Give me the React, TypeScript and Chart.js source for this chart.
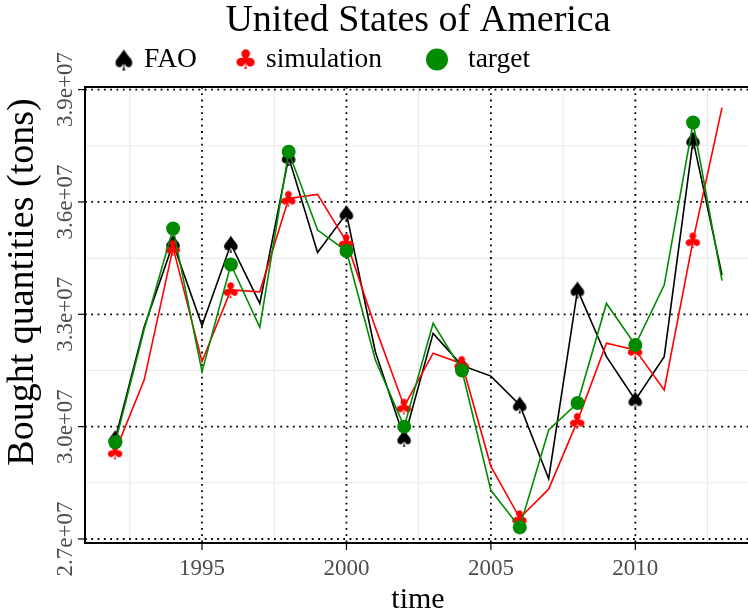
import React, { useEffect, useRef } from "react";
import { Chart, registerables } from "chart.js";

Chart.register(...registerables);

// ---- data ----
const years = [1992, 1993, 1994, 1995, 1996, 1997, 1998, 1999, 2000, 2001, 2002,
  2003, 2004, 2005, 2006, 2007, 2008, 2009, 2010, 2011, 2012, 2013];
const faoValues = [2.968e7, 3.267e7, 3.489e7, 3.27e7, 3.487e7, 3.329e7, 3.719e7, 3.465e7,
  3.569e7, 3.2e7, 2.969e7, 3.249e7, 3.163e7, 3.135e7, 3.058e7, 2.861e7, 3.365e7, 3.187e7,
  3.071e7, 3.187e7, 3.765e7, 3.405e7];
const simulationValues = [2.934e7, 3.125e7, 3.478e7, 3.174e7, 3.365e7, 3.36e7, 3.609e7, 3.62e7,
  3.494e7, 3.265e7, 3.054e7, 3.196e7, 3.168e7, 2.894e7, 2.756e7, 2.833e7, 3.016e7, 3.223e7,
  3.205e7, 3.098e7, 3.498e7, 3.852e7];
const targetValues = [2.958e7, 3.26e7, 3.529e7, 3.147e7, 3.433e7, 3.265e7, 3.734e7, 3.525e7,
  3.469e7, 3.178e7, 3.0e7, 3.276e7, 3.15e7, 2.83e7, 2.731e7, 2.991e7, 3.063e7, 3.329e7,
  3.218e7, 3.378e7, 3.812e7, 3.39e7];
const markerYears = [1992, 1994, 1996, 1998, 2000, 2002, 2004, 2006, 2008, 2010, 2012];
const seriesNames = ["FAO", "simulation", "target"];
const titleText = "United States of America";
const xTitle = "time";
const yTitle = "Bought quantities (tons)";
const yTickValues = [2.7e7, 3.0e7, 3.3e7, 3.6e7, 3.9e7];
const yTickLabels = ["2.7e+07", "3.0e+07", "3.3e+07", "3.6e+07", "3.9e+07"];
const yMinorValues = [2.85e7, 3.15e7, 3.45e7, 3.75e7];
const xTickValues = [1995, 2000, 2005, 2010];
const xTickLabels = ["1995", "2000", "2005", "2010"];
const xMinorValues = [1992.5, 1997.5, 2002.5, 2007.5, 2012.5];

const SERIF = '"Liberation Serif", serif';
const BLACK = "#000000";
const RED = "#ff0000";
const GREEN = "#008b00";

function makeGlyph(ch: string, color: string, h: number): HTMLCanvasElement {
  const probe = document.createElement("canvas").getContext("2d")!;
  probe.font = '100px "DejaVu Sans"';
  const m = probe.measureText(ch);
  const gh = m.actualBoundingBoxAscent + m.actualBoundingBoxDescent;
  const gw = m.actualBoundingBoxLeft + m.actualBoundingBoxRight;
  const s = h / gh;
  const c = document.createElement("canvas");
  c.width = Math.ceil(gw * s) + 2;
  c.height = Math.ceil(h) + 2;
  const ctx = c.getContext("2d")!;
  ctx.font = `${100 * s}px "DejaVu Sans"`;
  ctx.fillStyle = color;
  ctx.textAlign = "left";
  ctx.textBaseline = "alphabetic";
  ctx.fillText(ch, 1 + m.actualBoundingBoxLeft * s, 1 + m.actualBoundingBoxAscent * s);
  return c;
}

export default function App() {
  const ref = useRef<HTMLCanvasElement | null>(null);

  useEffect(() => {
    const canvas = ref.current!;
    const spade = makeGlyph("\u2660", BLACK, 17);
    const club = makeGlyph("\u2663", RED, 16);
    const spadeL = makeGlyph("\u2660", BLACK, 21);
    const clubL = makeGlyph("\u2663", RED, 20);

    const mk = (vals: number[]) => years.map((y, i) => ({ x: y, y: vals[i] }));
    const isMarker = (ctx: any) => {
      const raw = ctx.raw as any;
      return raw && markerYears.includes(raw.x);
    };

    const decor = {
      id: "decor",
      beforeDatasetsDraw(chart: any) {
        const { ctx, chartArea: a, scales } = chart;
        const xs = scales.x, ys = scales.y;
        ctx.save();
        ctx.strokeStyle = "#ebebeb";
        ctx.lineWidth = 1.1;
        ctx.setLineDash([]);
        for (const v of yMinorValues) {
          const p = ys.getPixelForValue(v);
          ctx.beginPath(); ctx.moveTo(a.left, p); ctx.lineTo(a.right, p); ctx.stroke();
        }
        for (const v of xMinorValues) {
          const p = xs.getPixelForValue(v);
          ctx.beginPath(); ctx.moveTo(p, a.top); ctx.lineTo(p, a.bottom); ctx.stroke();
        }
        ctx.strokeStyle = "#000000";
        ctx.lineWidth = 1.8;
        ctx.setLineDash([1.8, 4.5]);
        for (const v of yTickValues) {
          const p = ys.getPixelForValue(v);
          ctx.beginPath(); ctx.moveTo(a.left, p); ctx.lineTo(a.right, p); ctx.stroke();
        }
        for (const v of xTickValues) {
          const p = xs.getPixelForValue(v);
          ctx.beginPath(); ctx.moveTo(p, a.top); ctx.lineTo(p, a.bottom); ctx.stroke();
        }
        ctx.restore();
      },
      afterDraw(chart: any) {
        const { ctx, chartArea: a, scales } = chart;
        const xs = scales.x, ys = scales.y;
        ctx.save();
        // panel border
        ctx.setLineDash([]);
        ctx.strokeStyle = "#000000";
        ctx.lineWidth = 2;
        ctx.strokeRect(a.left, a.top, a.right - a.left + 6, a.bottom - a.top);
        // ticks
        ctx.lineWidth = 1.2;
        for (const v of yTickValues) {
          const p = ys.getPixelForValue(v);
          ctx.beginPath(); ctx.moveTo(a.left - 7, p); ctx.lineTo(a.left, p); ctx.stroke();
        }
        for (const v of xTickValues) {
          const p = xs.getPixelForValue(v);
          ctx.beginPath(); ctx.moveTo(p, a.bottom); ctx.lineTo(p, a.bottom + 7); ctx.stroke();
        }
        // tick labels
        ctx.fillStyle = "#4d4d4d";
        ctx.font = `23px ${SERIF}`;
        ctx.textAlign = "center";
        ctx.textBaseline = "alphabetic";
        xTickValues.forEach((v, i) => {
          ctx.fillText(xTickLabels[i], xs.getPixelForValue(v), a.bottom + 32);
        });
        yTickValues.forEach((v, i) => {
          ctx.save();
          ctx.translate(a.left - 13, ys.getPixelForValue(v));
          ctx.rotate(-Math.PI / 2);
          ctx.fillText(yTickLabels[i], 0, 0);
          ctx.restore();
        });
        // axis titles
        ctx.fillStyle = "#000000";
        ctx.font = `30px ${SERIF}`;
        ctx.fillText(xTitle, 418, 608);
        ctx.save();
        ctx.font = `38px ${SERIF}`;
        ctx.translate(33, 282);
        ctx.rotate(-Math.PI / 2);
        ctx.fillText(yTitle, 0, 0);
        ctx.restore();
        // title
        ctx.font = `38px ${SERIF}`;
        ctx.fillText(titleText, 418, 31);
        // legend
        ctx.textAlign = "left";
        ctx.font = `27.5px ${SERIF}`;
        ctx.drawImage(spadeL, 124 - spadeL.width / 2, 60 - spadeL.height / 2);
        ctx.fillText(seriesNames[0], 144, 67);
        ctx.drawImage(clubL, 246 - clubL.width / 2, 59 - clubL.height / 2);
        ctx.fillText(seriesNames[1], 266, 67);
        ctx.fillStyle = GREEN;
        ctx.beginPath(); ctx.arc(437, 59.5, 11, 0, Math.PI * 2); ctx.fill();
        ctx.fillStyle = "#000000";
        ctx.fillText(seriesNames[2], 468, 67);
        ctx.restore();
      },
    };

    const chart = new Chart(canvas, {
      type: "line",
      data: {
        datasets: [
          {
            label: seriesNames[0],
            data: mk(faoValues),
            borderColor: BLACK,
            backgroundColor: BLACK,
            borderWidth: 1.6,
            pointStyle: spade as any,
            pointRadius: (c: any) => (isMarker(c) ? 7 : 0),
            order: 2,
          },
          {
            label: seriesNames[1],
            data: mk(simulationValues),
            borderColor: RED,
            backgroundColor: RED,
            borderWidth: 1.6,
            pointStyle: club as any,
            pointRadius: (c: any) => (isMarker(c) ? 7 : 0),
            order: 1,
          },
          {
            label: seriesNames[2],
            data: mk(targetValues),
            borderColor: GREEN,
            backgroundColor: GREEN,
            borderWidth: 1.6,
            pointStyle: "circle",
            pointBorderWidth: 0,
            pointRadius: (c: any) => (isMarker(c) ? 7 : 0),
            order: 0,
          },
        ],
      } as any,
      options: {
        animation: false,
        responsive: false,
        devicePixelRatio: 1,
        layout: { autoPadding: false, padding: { top: 87, left: 0, right: 0, bottom: 0 } },
        plugins: { legend: { display: false }, title: { display: false }, tooltip: { enabled: false } },
        elements: { line: { tension: 0 } },
        scales: {
          x: {
            type: "linear",
            min: 1990.95,
            max: 2013.9,
            grid: { display: false },
            border: { display: false },
            ticks: { display: false },
            afterFit: (s: any) => { s.height = 70; },
          },
          y: {
            type: "linear",
            min: 2.6893e7,
            max: 3.9069e7,
            grid: { display: false },
            border: { display: false },
            ticks: { display: false },
            afterFit: (s: any) => { s.width = 85; },
          },
        },
      } as any,
      plugins: [decor],
    });
    return () => chart.destroy();
  }, []);

  return (
    <div style={{ position: "fixed", left: 0, top: 0, width: 748, height: 613, background: "#ffffff" }}>
      <canvas ref={ref} width={748} height={613} style={{ display: "block", width: 748, height: 613 }} />
    </div>
  );
}
